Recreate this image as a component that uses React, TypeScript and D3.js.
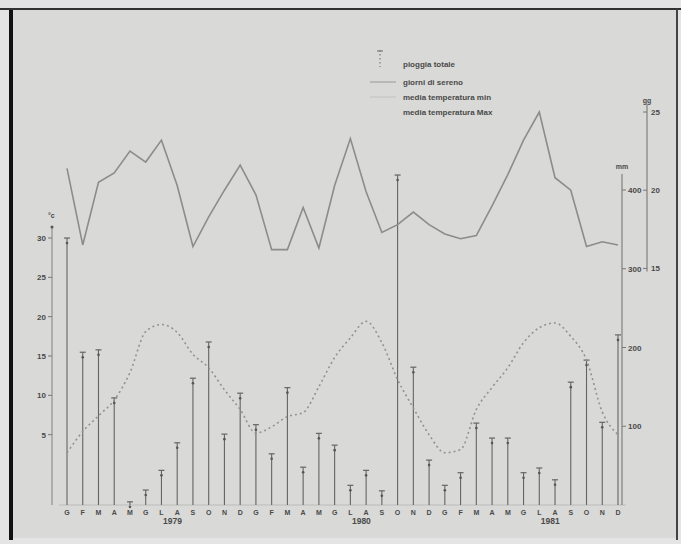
import React from 'react'
import * as d3 from 'd3'

// monthly values, Jan 1979 .. Dec 1981
const months = ['G', 'F', 'M', 'A', 'M', 'G', 'L', 'A', 'S', 'O', 'N', 'D']
const years = ['1979', '1980', '1981']
const pioggia = [339, 194, 197, 136, 4, 19, 44, 79, 161, 207, 90, 142,
  102, 65, 149, 48, 91, 76, 25, 44, 18, 419, 175, 57,
  25, 41, 104, 85, 85, 41, 47, 32, 156, 184, 105, 216]
const sereno = [21.4, 16.5, 20.5, 21.1, 22.5, 21.8, 23.2, 20.3, 16.4, 18.3, 20.0, 21.6,
  19.7, 16.2, 16.2, 18.9, 16.3, 20.3, 23.3, 19.9, 17.3, 17.8, 18.6, 17.8,
  17.2, 16.9, 17.1, 19.0, 21.0, 23.2, 25.0, 20.8, 20.0, 16.4, 16.7, 16.5]
const temperatura = [2.7, 5.4, 7.4, 9.4, 12.9, 18.1, 19.0, 18.0, 15.2, 13.5, 10.7, 8.2,
  5.2, 6.0, 7.3, 7.8, 11.1, 14.8, 17.3, 19.4, 16.7, 12.0, 8.4, 5.0,
  2.7, 3.1, 8.2, 11.0, 13.5, 16.7, 18.6, 19.2, 17.5, 14.5, 7.9, 5.0]
const legendLabels = ['pioggia totale', 'giorni di sereno', 'media temperatura min', 'media temperatura Max']
const tempTicks = [5, 10, 15, 20, 25, 30]
const mmTicks = [100, 200, 300, 400]
const ggTicks = [15, 20, 25]

const font = '"Liberation Sans", Arial, sans-serif'
const ink = '#4a4a4a'

export default function App() {
  const width = 681
  const height = 544

  const x = d3.scaleLinear().domain([0, 35]).range([67, 618])
  const yMm = d3.scaleLinear().domain([0, 400]).range([505, 190])
  const yT = d3.scaleLinear().domain([0, 30]).range([474, 238])
  const yG = d3.scaleLinear().domain([0, 25]).range([503, 112])

  const serenoLine = d3.line<number>().x((_, i) => x(i)).y(d => yG(d))
  const tempLine = d3.line<number>().x((_, i) => x(i)).y(d => yT(d)).curve(d3.curveMonotoneX)

  const leftX = 52
  const mmX = 622
  const ggX = 647

  return <svg width={width} height={height} style={{ position: 'absolute', left: 0, top: 0 }}>
    {/* scanned page */}
    <rect width={width} height={height} fill="#e4e4e4" />
    <rect x={10} y={9} width={668} height={529} fill="#d9d9d7" />
    <line x1={11} x2={11} y1={9} y2={540} stroke="#111" strokeWidth={4} />
    <line x1={0} x2={width} y1={9} y2={9} stroke="#333" strokeWidth={2} />
    <line x1={677} x2={677} y1={9} y2={540} stroke="#444" strokeWidth={2} />

    {/* legend */}
    <g fontFamily={font} fontSize={8} fill={ink} fontWeight="bold">
      <line x1={380} x2={380} y1={50} y2={67} stroke="#666" strokeDasharray="1.5,2.5" />
      <line x1={377} x2={383} y1={51} y2={51} stroke="#666" />
      <line x1={370} x2={396} y1={82} y2={82} stroke="#aaa" strokeWidth={1.4} />
      <line x1={370} x2={396} y1={97} y2={97} stroke="#c4c4c4" strokeWidth={1.2} />
      {legendLabels.map((t, i) =>
        <text key={t} x={403} y={[67, 85, 100, 115][i]}>{t}</text>)}
    </g>

    {/* baseline */}
    <line x1={x(0) - 8} x2={mmX + 4} y1={yMm(0)} y2={yMm(0)} stroke="#b4b4b4" strokeWidth={0.8} />

    {/* pioggia totale */}
    <g stroke="#646464">
      {pioggia.map((v, i) => <g key={i}>
        <line x1={x(i)} x2={x(i)} y1={yMm(0)} y2={yMm(v)} strokeWidth={1.1} />
        <line x1={x(i) - 3} x2={x(i) + 3} y1={yMm(v)} y2={yMm(v)} strokeWidth={1.2} />
        <circle cx={x(i)} cy={yMm(v) + 5} r={1.3} fill="#555" stroke="none" />
      </g>)}
    </g>

    {/* giorni di sereno */}
    <path d={serenoLine(sereno) || ''} fill="none" stroke="#8c8c8c" strokeWidth={1.6} />

    {/* temperatura media */}
    <path d={tempLine(temperatura) || ''} fill="none" stroke="#929292" strokeWidth={1.6}
          strokeDasharray="2,3" />

    {/* left axis (°C) */}
    <g fontFamily={font} fontSize={8} fill={ink} fontWeight="bold">
      <line x1={leftX} x2={leftX} y1={yT(30) - 12} y2={yMm(0)} stroke="#808080" strokeWidth={1} />
      <circle cx={leftX} cy={yT(30) - 11} r={1.5} fill="#555" />
      <text x={leftX - 4} y={yT(30) - 20} fontSize={7}>°c</text>
      {tempTicks.map(t => <g key={t}>
        <line x1={leftX - 4} x2={leftX} y1={yT(t)} y2={yT(t)} stroke="#777" />
        <text x={leftX - 6} y={yT(t) + 3} textAnchor="end">{t}</text>
      </g>)}
    </g>

    {/* right axis (mm) */}
    <g fontFamily={font} fontSize={8} fill={ink} fontWeight="bold">
      <line x1={mmX} x2={mmX} y1={yMm(400) - 16} y2={yMm(0)} stroke="#777" strokeWidth={1.1} />
      <text x={mmX} y={yMm(400) - 21} textAnchor="middle" fontSize={7}>mm</text>
      {mmTicks.map(t => <g key={t}>
        <line x1={mmX} x2={mmX + 4} y1={yMm(t)} y2={yMm(t)} stroke="#777" />
        <text x={mmX + 6} y={yMm(t) + 3}>{t}</text>
      </g>)}
    </g>

    {/* right axis (giorni) */}
    <g fontFamily={font} fontSize={8} fill={ink} fontWeight="bold">
      <line x1={ggX} x2={ggX} y1={yG(25) - 8} y2={yG(14.8)} stroke="#777" strokeWidth={1.1} />
      <text x={ggX} y={yG(25) - 9} textAnchor="middle" fontSize={7}>gg</text>
      {ggTicks.map(t => <g key={t}>
        <line x1={ggX - 4} x2={ggX} y1={yG(t)} y2={yG(t)} stroke="#777" />
        <text x={ggX + 4} y={yG(t) + 3}>{t}</text>
      </g>)}
    </g>

    {/* months and years */}
    <g fontFamily={font} fill={ink} fontWeight="bold" textAnchor="middle">
      {pioggia.map((_, i) =>
        <text key={i} x={x(i)} y={yMm(0) + 10} fontSize={7}>{months[i % 12]}</text>)}
      {years.map((yr, k) =>
        <text key={yr} x={x(k * 12 + 6.7)} y={yMm(0) + 19} fontSize={8.5}>{yr}</text>)}
    </g>
  </svg>
}
